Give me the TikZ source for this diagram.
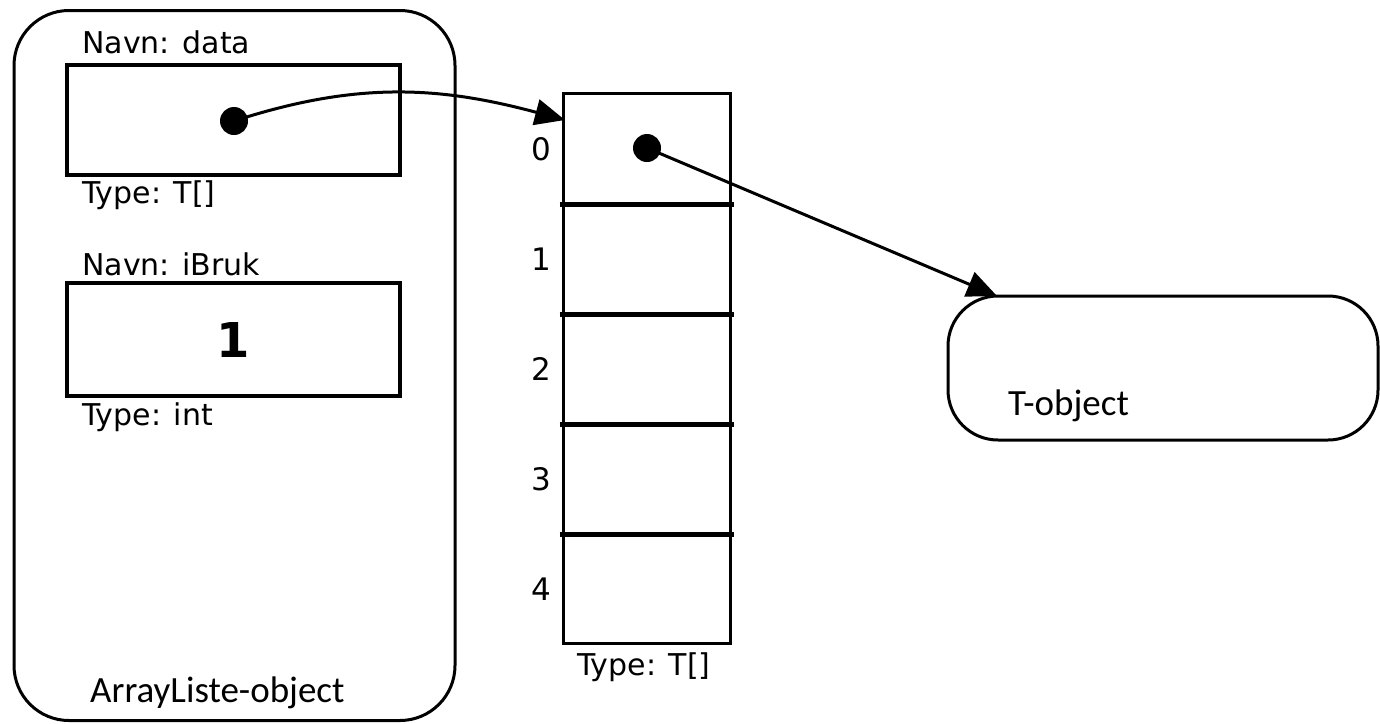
\documentclass[tikz,border=0pt]{standalone}
\usepackage{fontspec}
\setmainfont{DejaVu Sans}
\newfontfamily\calfont{Carlito}
\usetikzlibrary{arrows.meta}
\begin{document}
\begin{tikzpicture}[x=1pt,y=-1pt,
  lbl/.style={font=\fontsize{30}{34}\selectfont, inner sep=0pt, anchor=base west},
  objlbl/.style={font=\calfont\fontsize{37}{42}\selectfont, inner sep=0pt, anchor=base west},
  objbox/.style={draw, line width=3pt, rounded corners=55pt, inner sep=0pt},
  varbox/.style={draw, line width=4.5pt, inner sep=0pt},
  cell/.style={draw, line width=3pt, minimum width=167pt, minimum height=110pt, inner sep=0pt},
  divider/.style={line width=4.5pt},
  dot/.style={circle, fill=black, inner sep=0pt, minimum size=28pt},
  ptr/.style={line width=3pt, -{Triangle[length=30pt,width=26pt]}},
  idx/.style={font=\fontsize{31}{36}\selectfont, inner sep=0pt}]
\useasboundingbox (0,0) rectangle (1380,723);
% ArrayListe object
\node[objbox, minimum width=441pt, minimum height=710pt] (al) at (234.5,365.5) {};
\node[objlbl] (altxt) at (90,702) {ArrayListe-object};
% data variable
\node[lbl] (navndata) at (82,53) {Navn: data};
\node[varbox, minimum width=333pt, minimum height=110pt] (data) at (233.5,120) {};
\node[lbl] (typedata) at (82,203) {Type: T[]};
\node[dot] (d1) at (234,121) {};
% iBruk variable
\node[lbl] (navnibruk) at (82,275) {Navn: iBruk};
\node[varbox, minimum width=333pt, minimum height=113pt] (ibruk) at (233.5,339.5) {\fontsize{48}{56}\selectfont\bfseries 1};
\node[lbl] (typeint) at (82,425) {Type: int};
% array
\foreach \i in {0,...,4}{
  \node[cell] (c\i) at (646.5,{148+110*\i}) {};
  \node[idx] (i\i) at (541,{149+110*\i}) {\i};
}
\foreach \i in {0,...,3}{
  \draw[divider] ([xshift=-2pt]c\i.south west) -- ([xshift=2pt]c\i.south east);
}
\node[lbl] (typearr) at (577,675) {Type: T[]};
\node[dot] (d2) at (647,148) {};
% T-object
\node[objbox, rounded corners=50pt, minimum width=430pt, minimum height=144pt] (tobj) at (1163,368) {};
\node[objlbl] (ttxt) at (1008,415) {T-object};
% pointers
\coordinate (tip1) at (565,120);
\coordinate (tip2) at (997,296);
\draw[ptr] (d1.center) to[out=18, in=165] (tip1);
\draw[ptr] (d2.center) -- (tip2);
\end{tikzpicture}
\end{document}
